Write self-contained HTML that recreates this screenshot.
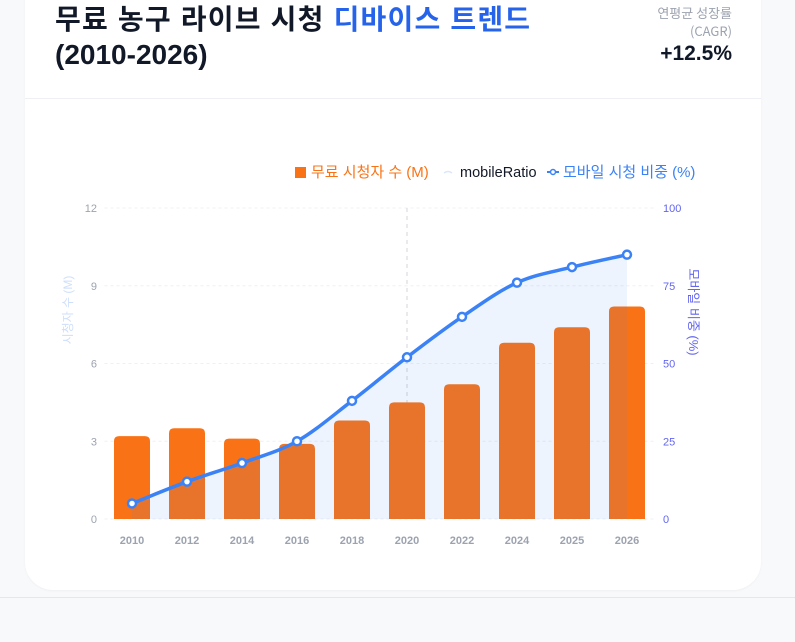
<!DOCTYPE html>
<html><head><meta charset="utf-8"><style>
body{margin:0;width:795px;height:642px;background:#f8f9fb;font-family:"Liberation Sans","Noto Sans CJK KR",sans-serif;overflow:hidden;position:relative}
.card{position:absolute;left:25px;top:-30px;width:736px;height:620px;background:#fff;border-radius:0 0 28px 28px;box-shadow:0 1px 2px rgba(0,0,0,.04)}
.sep{position:absolute;left:25px;top:98px;width:736px;height:1px;background:#eef0f5}
.title{position:absolute;left:55px;top:2px;font-size:28px;font-weight:bold;color:#111827;line-height:35px;font-family:"Liberation Sans","Noto Sans CJK KR",sans-serif}
.title .k{letter-spacing:1.2px}
.title span{color:#2563eb}
.cagr{position:absolute;right:63px;top:4px;text-align:right;color:#9ca3af;font-size:13px;line-height:18px;font-family:"Noto Sans CJK KR",sans-serif}
.cagrv{position:absolute;right:63px;top:42px;font-size:21px;font-weight:bold;color:#111827}
.bottom{position:absolute;left:0;top:597px;width:795px;height:1px;background:#e5e7eb}
</style></head><body>
<div class="card"></div>
<div class="sep"></div>
<div class="title"><span class="k" style="color:#111827">무료 농구 라이브 시청 </span><span class="k">디바이스 트렌드</span><br>(2010-2026)</div>
<div class="cagr">연평균 성장률<br>(CAGR)</div>
<div class="cagrv">+12.5%</div>
<div class="bottom"></div>
<svg id="chart" width="795" height="642" style="position:absolute;left:0;top:0"></svg>
<script>
const categories=["2010","2012","2014","2016","2018","2020","2022","2024","2025","2026"];
const viewers=[3.2,3.5,3.1,2.9,3.8,4.5,5.2,6.8,7.4,8.2];
const mobileRatio=[5,12,18,25,38,52,65,76,81,85];
const leftTicks=[0,3,6,9,12];
const rightTicks=[0,25,50,75,100];
const NS="http://www.w3.org/2000/svg";
const svg=document.getElementById('chart');
const L=104.5,R=654.5,T=208,B=519;
const step=(R-L)/categories.length;
const x=i=>L+step*(i+0.5);
const yL=v=>B-(v/12)*(B-T);
const yR=v=>B-(v/100)*(B-T);
function el(t,a,p){const e=document.createElementNS(NS,t);for(const k in a)e.setAttribute(k,a[k]);(p||svg).appendChild(e);return e;}
const font='"Liberation Sans","Noto Sans CJK KR",sans-serif';
leftTicks.forEach(v=>{
 const g=el('line',{x1:L,x2:R,y1:yL(v),y2:yL(v),stroke:'#eef0f6','stroke-dasharray':'3 3'});
 
 const t=el('text',{x:97,y:yL(v)+4,'text-anchor':'end','font-size':11,fill:'#9ca3af','font-family':font});t.textContent=v;
 
});
rightTicks.forEach(v=>{
 const t=el('text',{x:663,y:yR(v)+4,'font-size':11,fill:'#6366f1','font-family':font});t.textContent=v;
 
});
const cl=el('line',{x1:x(5),x2:x(5),y1:T,y2:B,stroke:'#d1d5db','stroke-dasharray':'4 4'});

viewers.forEach((v,i)=>{
 const r=el('path',{d:`M${x(i)-18},${B} V${yL(v)+5} q0,-5 5,-5 h26 q5,0 5,5 V${B} Z`,fill:'#f97316'});
 
 const t=el('text',{x:x(i),y:544,'text-anchor':'middle','font-size':11,'font-weight':'bold',fill:'#9ca3af','font-family':font});t.textContent=categories[i];
 
});
const pts=mobileRatio.map((v,i)=>[x(i),yR(v)]);
function mono(p){const n=p.length,d=[],m=[];for(let i=0;i<n-1;i++)d.push((p[i+1][1]-p[i][1])/(p[i+1][0]-p[i][0]));
 m[0]=d[0];m[n-1]=d[n-2];for(let i=1;i<n-1;i++)m[i]=d[i-1]*d[i]<=0?0:(d[i-1]+d[i])/2;
 for(let i=0;i<n-1;i++){if(d[i]===0){m[i]=m[i+1]=0;continue;}const a=m[i]/d[i],b=m[i+1]/d[i],s=a*a+b*b;if(s>9){const t=3/Math.sqrt(s);m[i]=t*a*d[i];m[i+1]=t*b*d[i];}}
 let s=`M${p[0][0]},${p[0][1]}`;for(let i=0;i<n-1;i++){const h=(p[i+1][0]-p[i][0])/3;s+=` C${p[i][0]+h},${p[i][1]+m[i]*h} ${p[i+1][0]-h},${p[i+1][1]-m[i+1]*h} ${p[i+1][0]},${p[i+1][1]}`;}return s;}
const lp=mono(pts);
const area=el('path',{d:lp+` L${pts[pts.length-1][0]},${B} L${pts[0][0]},${B} Z`,fill:'rgba(59,130,246,0.09)'});

const line=el('path',{d:lp,fill:'none',stroke:'#3b82f6','stroke-width':3.5});

pts.forEach((p,i)=>{const c=el('circle',{cx:p[0],cy:p[1],r:4,fill:'#fff',stroke:'#3b82f6','stroke-width':2.5});
 });
const rt=el('text',{x:0,y:0,transform:'translate(689,312) rotate(90)','text-anchor':'middle','font-size':13,fill:'#6366f1','font-family':font});rt.textContent='모바일 비중 (%)';

const ltt=el('text',{x:0,y:0,transform:'translate(72,310) rotate(-90)','text-anchor':'middle','font-size':12,fill:'#3b82f6','font-family':font,opacity:0.25,'stroke':'#fff','stroke-width':3,'paint-order':'stroke'});ltt.textContent='시청자 수 (M)';

const lg=el('g',{});
const r1=el('rect',{x:295,y:167,width:11,height:11,fill:'#f97316'},lg);
const t1=el('text',{x:311,y:177,'font-size':15,fill:'#f97316','font-family':font},lg);t1.textContent='무료 시청자 수 (M)';
const l2=el('path',{d:'M444,173 q4,-3 8,0',stroke:'#dbe7fb',fill:'none','stroke-width':1.5},lg);
const t2=el('text',{x:460,y:177,'font-size':14.5,fill:'#111827','font-family':font},lg);t2.textContent='mobileRatio';
const l3=el('line',{x1:547,x2:559,y1:172,y2:172,stroke:'#3b82f6','stroke-width':2},lg);
const c3=el('circle',{cx:553,cy:172,r:2.5,fill:'#fff',stroke:'#3b82f6','stroke-width':1.5},lg);
const t3=el('text',{x:563,y:177,'font-size':15,fill:'#3b82f6','font-family':font},lg);t3.textContent='모바일 시청 비중 (%)';
</script>
</body></html>
